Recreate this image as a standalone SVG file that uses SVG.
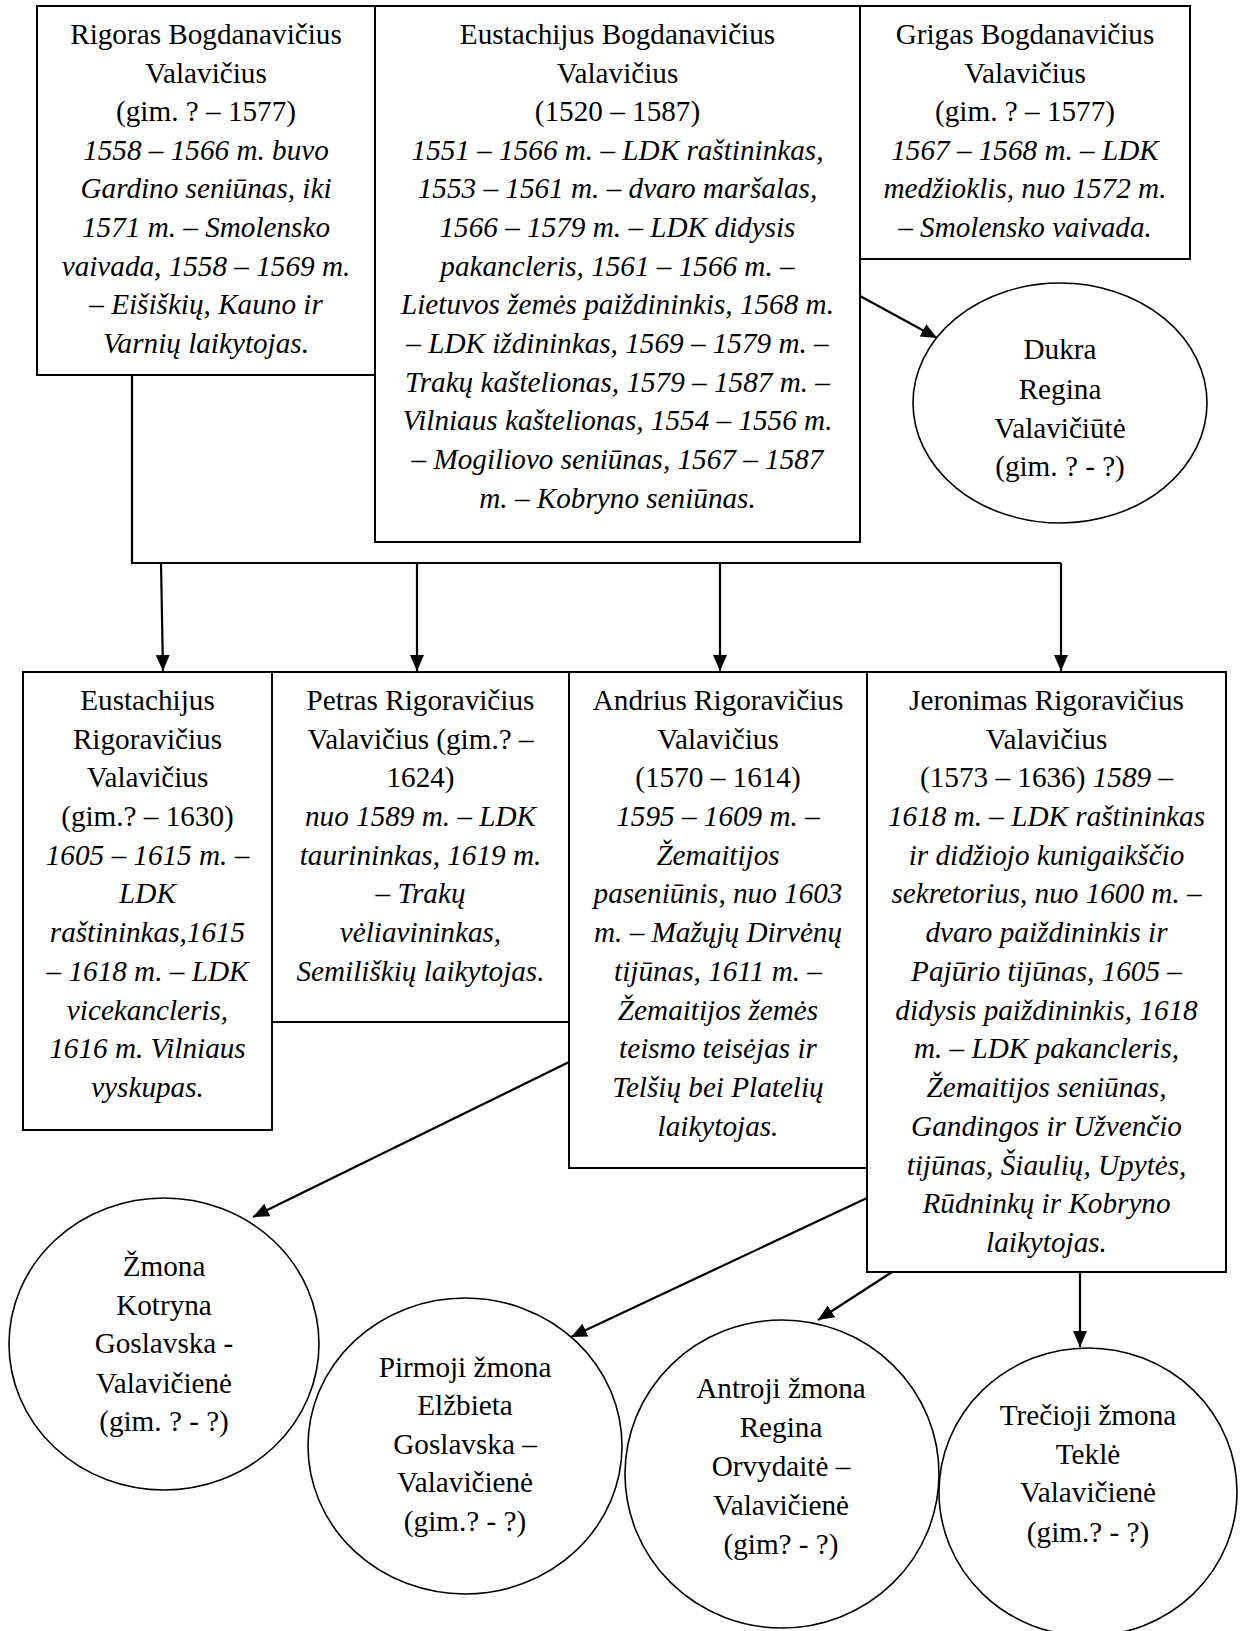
<svg xmlns="http://www.w3.org/2000/svg" width="1248" height="1631" viewBox="0 0 1248 1631">
<style>
.box{fill:#fff;stroke:#000;stroke-width:2}
.ell{fill:#fff;stroke:#000;stroke-width:1.6}
.t{font-family:"Liberation Serif","Times New Roman",serif;font-size:29.2px;text-anchor:middle;fill:#000}
.i{font-style:italic}
.con{stroke:#000;stroke-width:2.2;fill:none}
</style>
<defs>
<marker id="ah" markerUnits="userSpaceOnUse" markerWidth="17" markerHeight="15" refX="16" refY="7" orient="auto">
<path d="M0,0 L16,7 L0,14 z" fill="#000"/>
</marker>
</defs>
<rect width="1248" height="1631" fill="#fff"/>

<g id="rigoras">
<rect class="box" x="37" y="6" width="338" height="369"/>
<g class="t">
<text x="206" y="44">Rigoras Bogdanavičius</text>
<text x="206" y="83">Valavičius</text>
<text x="206" y="121">(gim. ? – 1577)</text>
<text class="i" x="206" y="160">1558 – 1566 m. buvo</text>
<text class="i" x="206" y="198">Gardino seniūnas, iki</text>
<text class="i" x="206" y="237">1571 m. – Smolensko</text>
<text class="i" x="206" y="276">vaivada, 1558 – 1569 m.</text>
<text class="i" x="206" y="314">– Eišiškių, Kauno ir</text>
<text class="i" x="206" y="353">Varnių laikytojas.</text>
</g>
</g>

<g id="eustachijus-b">
<rect class="box" x="375" y="6" width="485" height="536"/>
<g class="t">
<text x="617.5" y="44">Eustachijus Bogdanavičius</text>
<text x="617.5" y="83">Valavičius</text>
<text x="617.5" y="121">(1520 – 1587)</text>
<text class="i" x="617.5" y="160">1551 – 1566 m. – LDK raštininkas,</text>
<text class="i" x="617.5" y="198">1553 – 1561 m. – dvaro maršalas,</text>
<text class="i" x="617.5" y="237">1566 – 1579 m. – LDK didysis</text>
<text class="i" x="617.5" y="276">pakancleris, 1561 – 1566 m. –</text>
<text class="i" x="617.5" y="314">Lietuvos žemės paiždininkis, 1568 m.</text>
<text class="i" x="617.5" y="353">– LDK iždininkas, 1569 – 1579 m. –</text>
<text class="i" x="617.5" y="392">Trakų kaštelionas, 1579 – 1587 m. –</text>
<text class="i" x="617.5" y="430">Vilniaus kaštelionas, 1554 – 1556 m.</text>
<text class="i" x="617.5" y="469">– Mogiliovo seniūnas, 1567 – 1587</text>
<text class="i" x="617.5" y="508">m. – Kobryno seniūnas.</text>
</g>
</g>

<g id="grigas">
<rect class="box" x="860" y="6" width="330" height="253"/>
<g class="t">
<text x="1025" y="44">Grigas Bogdanavičius</text>
<text x="1025" y="83">Valavičius</text>
<text x="1025" y="121">(gim. ? – 1577)</text>
<text class="i" x="1025" y="160">1567 – 1568 m. – LDK</text>
<text class="i" x="1025" y="198">medžioklis, nuo 1572 m.</text>
<text class="i" x="1025" y="237">– Smolensko vaivada.</text>
</g>
</g>

<g id="dukra">
<ellipse class="ell" cx="1060" cy="403" rx="147" ry="120"/>
<g class="t">
<text x="1060" y="359">Dukra</text>
<text x="1060" y="399">Regina</text>
<text x="1060" y="438">Valavičiūtė</text>
<text x="1060" y="476">(gim. ? - ?)</text>
</g>
</g>

<g id="eustachijus-r">
<rect class="box" x="23" y="672" width="249" height="458"/>
<g class="t">
<text x="147.5" y="710">Eustachijus</text>
<text x="147.5" y="749">Rigoravičius</text>
<text x="147.5" y="787">Valavičius</text>
<text x="147.5" y="826">(gim.? – 1630)</text>
<text class="i" x="147.5" y="865">1605 – 1615 m. –</text>
<text class="i" x="147.5" y="903">LDK</text>
<text class="i" x="147.5" y="942">raštininkas,1615</text>
<text class="i" x="147.5" y="981">– 1618 m. – LDK</text>
<text class="i" x="147.5" y="1020">vicekancleris,</text>
<text class="i" x="147.5" y="1058">1616 m. Vilniaus</text>
<text class="i" x="147.5" y="1097">vyskupas.</text>
</g>
</g>

<g id="petras">
<rect class="box" x="272" y="672" width="297" height="350"/>
<g class="t">
<text x="420.5" y="710">Petras Rigoravičius</text>
<text x="420.5" y="749">Valavičius (gim.? –</text>
<text x="420.5" y="787">1624)</text>
<text class="i" x="420.5" y="826">nuo 1589 m. – LDK</text>
<text class="i" x="420.5" y="865">taurininkas, 1619 m.</text>
<text class="i" x="420.5" y="903">– Trakų</text>
<text class="i" x="420.5" y="942">vėliavininkas,</text>
<text class="i" x="420.5" y="981">Semiliškių laikytojas.</text>
</g>
</g>

<g id="andrius">
<rect class="box" x="569" y="672" width="298" height="496"/>
<g class="t">
<text x="718" y="710">Andrius Rigoravičius</text>
<text x="718" y="749">Valavičius</text>
<text x="718" y="787">(1570 – 1614)</text>
<text class="i" x="718" y="826">1595 – 1609 m. –</text>
<text class="i" x="718" y="865">Žemaitijos</text>
<text class="i" x="718" y="903">paseniūnis, nuo 1603</text>
<text class="i" x="718" y="942">m. – Mažųjų Dirvėnų</text>
<text class="i" x="718" y="981">tijūnas, 1611 m. –</text>
<text class="i" x="718" y="1020">Žemaitijos žemės</text>
<text class="i" x="718" y="1058">teismo teisėjas ir</text>
<text class="i" x="718" y="1097">Telšių bei Platelių</text>
<text class="i" x="718" y="1136">laikytojas.</text>
</g>
</g>

<g id="jeronimas">
<rect class="box" x="867" y="672" width="359" height="600"/>
<g class="t">
<text x="1046.5" y="710">Jeronimas Rigoravičius</text>
<text x="1046.5" y="749">Valavičius</text>
<text x="1046.5" y="787">(1573 – 1636) <tspan class="i">1589 –</tspan></text>
<text class="i" x="1046.5" y="826">1618 m. – LDK raštininkas</text>
<text class="i" x="1046.5" y="865">ir didžiojo kunigaikščio</text>
<text class="i" x="1046.5" y="903">sekretorius, nuo 1600 m. –</text>
<text class="i" x="1046.5" y="942">dvaro paiždininkis ir</text>
<text class="i" x="1046.5" y="981">Pajūrio tijūnas, 1605 –</text>
<text class="i" x="1046.5" y="1020">didysis paiždininkis, 1618</text>
<text class="i" x="1046.5" y="1058">m. – LDK pakancleris,</text>
<text class="i" x="1046.5" y="1097">Žemaitijos seniūnas,</text>
<text class="i" x="1046.5" y="1136">Gandingos ir Užvenčio</text>
<text class="i" x="1046.5" y="1175">tijūnas, Šiaulių, Upytės,</text>
<text class="i" x="1046.5" y="1213">Rūdninkų ir Kobryno</text>
<text class="i" x="1046.5" y="1252">laikytojas.</text>
</g>
</g>

<g id="kotryna">
<ellipse class="ell" cx="164" cy="1344" rx="155" ry="146"/>
<g class="t">
<text x="164" y="1276">Žmona</text>
<text x="164" y="1315">Kotryna</text>
<text x="164" y="1353">Goslavska -</text>
<text x="164" y="1393">Valavičienė</text>
<text x="164" y="1431">(gim. ? - ?)</text>
</g>
</g>

<g id="elzbieta">
<ellipse class="ell" cx="465" cy="1446" rx="157" ry="148"/>
<g class="t">
<text x="465" y="1377">Pirmoji žmona</text>
<text x="465" y="1415">Elžbieta</text>
<text x="465" y="1454">Goslavska –</text>
<text x="465" y="1492">Valavičienė</text>
<text x="465" y="1531">(gim.? - ?)</text>
</g>
</g>

<g id="antroji">
<ellipse class="ell" cx="782" cy="1474" rx="157" ry="154"/>
<g class="t">
<text x="781" y="1398">Antroji žmona</text>
<text x="781" y="1437">Regina</text>
<text x="781" y="1476">Orvydaitė –</text>
<text x="781" y="1515">Valavičienė</text>
<text x="781" y="1554">(gim? - ?)</text>
</g>
</g>

<g id="trecioji">
<ellipse class="ell" cx="1088" cy="1492" rx="149" ry="144"/>
<g class="t">
<text x="1088" y="1425">Trečioji žmona</text>
<text x="1088" y="1464">Teklė</text>
<text x="1088" y="1502">Valavičienė</text>
<text x="1088" y="1542">(gim.? - ?)</text>
</g>
</g>

<g id="connectors" class="con">
<polyline points="132,375 132,563 1061,563"/>
<line x1="161" y1="563" x2="163" y2="671" marker-end="url(#ah)"/>
<line x1="417" y1="563" x2="417" y2="671" marker-end="url(#ah)"/>
<line x1="720" y1="563" x2="720" y2="671" marker-end="url(#ah)"/>
<line x1="1061" y1="563" x2="1061" y2="671" marker-end="url(#ah)"/>
<line x1="860" y1="296" x2="937" y2="338" marker-end="url(#ah)"/>
<line x1="569" y1="1062" x2="253" y2="1217" marker-end="url(#ah)"/>
<line x1="867" y1="1198" x2="571" y2="1337" marker-end="url(#ah)"/>
<line x1="892" y1="1272" x2="818" y2="1320" marker-end="url(#ah)"/>
<line x1="1080" y1="1272" x2="1080" y2="1347" marker-end="url(#ah)"/>
</g>
</svg>
